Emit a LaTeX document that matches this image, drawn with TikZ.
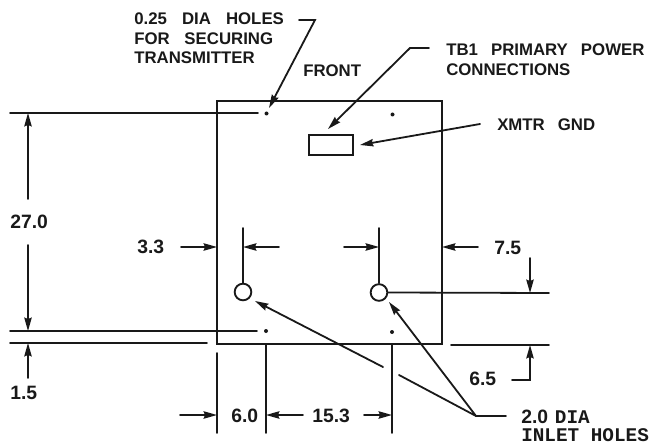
\documentclass[tikz,border=0pt]{standalone}
\usepackage{fontspec}
\setmainfont{Liberation Sans}
\newfontfamily\slabfont{Liberation Mono}
\usetikzlibrary{arrows.meta}
\tikzset{
  ln/.style={line width=1.35pt,color=black!90,line cap=round},
  arr/.style={ln,-{Stealth[length=10pt,width=5.5pt,inset=1pt]}},
  lbl/.style={anchor=west,inner sep=0pt,font=\fontsize{12.6}{14}\selectfont\bfseries,text=black!90},
  dim/.style={lbl,font=\fontsize{14.5}{16}\selectfont\bfseries},
  slab/.style={lbl,font=\fontsize{14.5}{16}\selectfont\bfseries},
  hole/.style={circle,draw=black!90,line width=1.4pt,minimum size=12.5pt,inner sep=0pt,fill=white},
  dot/.style={circle,fill=black!90,minimum size=3pt,inner sep=0pt}
}
\begin{document}
\begin{tikzpicture}[x=0.75pt,y=-0.75pt]
\useasboundingbox (0,0) rectangle (652,445);
% chassis
\draw[ln] (217,101) rectangle (442,344);
\node[draw=black!90,line width=1.35pt,minimum width=33pt,minimum height=15pt,inner sep=0pt,anchor=north west] (tb) at (308,134) {};
% holes
\node[dot] (d1) at (266.5,113.5) {};
\node[dot] (d2) at (392.5,114.5) {};
\node[dot] (d3) at (266,331) {};
\node[dot] (d4) at (392,332) {};
\node[hole] (h1) at (243,292) {};
\node[hole] (h2) at (379,292.5) {};
% extension lines, left
\coordinate (e1a) at (10,113); \coordinate (e1b) at (258,113);
\coordinate (e2a) at (10,331); \coordinate (e2b) at (257,331);
\coordinate (e3a) at (10,343); \coordinate (e3b) at (207,343);
\draw[ln] (e1a)--(e1b); \draw[ln] (e2a)--(e2b); \draw[ln] (e3a)--(e3b);
% 27.0 and 1.5
\coordinate (a1) at (28,199); \coordinate (a1t) at (28,113);
\coordinate (a2) at (28,245); \coordinate (a2t) at (28,331);
\coordinate (a3) at (28,378); \coordinate (a3t) at (28,343);
\draw[arr] (a1)--(a1t); \draw[arr] (a2)--(a2t); \draw[arr] (a3)--(a3t);
\node[dim] (t27) at (10,222) {27.0};
\node[dim] (t15) at (10,393) {1.5};
% 3.3 / 7.5 row
\coordinate (v1) at (243,228); \coordinate (v2) at (379,228);
\draw[ln] (v1)--(h1.north); \draw[ln] (v2)--(h2.north);
\draw[arr] (181,247)--(217,247);
\draw[arr] (279,247)--(243,247);
\draw[arr] (344,247)--(379,247);
\draw[arr] (478,247)--(442,247);
\node[dim] (t33) at (137,247) {3.3};
\node[dim] (t75) at (494,248) {7.5};
% right dims
\coordinate (r1) at (549,293);
\draw[ln] (h2.east)--(r1);
\coordinate (r2a) at (451,345); \coordinate (r2b) at (549,345);
\draw[ln] (r2a)--(r2b);
\draw[arr] (530,258)--(530,293);
\draw[arr] (512,380)--(530,380)--(530,345);
\node[dim] (t65) at (469,379) {6.5};
% bottom dims
\draw[ln] (217,353)--(217,433);
\draw[ln] (266,344)--(266,433);
\draw[ln] (392,344)--(392,433);
\draw[arr] (180,415)--(217,415);
\draw[arr] (303,415)--(266,415);
\draw[arr] (364,415)--(392,415);
\node[dim] (t60) at (231,416) {6.0};
\node[dim] (t153) at (312,416) {15.3};
% leaders
\coordinate (k) at (476,416);
\draw[ln] (506,416)--(k);
\draw[arr] (k)--(389,302);
\draw[ln] (k)--(399,375);
\draw[arr] (383,367)--(255,301);
\draw[arr] (299,20)--(315,20)--(269,108);
\draw[arr] (429,48)--(410,48)--(328,129);
\draw[arr] (480,124)--(360,145);
% text
\node[lbl] (n1) at (134,19) {0.25\hspace{.62em} DIA\hspace{.62em} HOLES};
\node[lbl] (n2) at (134,38.5) {FOR\hspace{.6em} SECURING};
\node[lbl] (n3) at (134,58) {TRANSMITTER};
\node[lbl] (n4) at (303,71) {FRONT};
\node[lbl] (n5) at (446,50) {TB1\hspace{.5em} PRIMARY\hspace{.5em} POWER};
\node[lbl] (n6) at (446,70) {CONNECTIONS};
\node[lbl] (n7) at (497,125) {XMTR\hspace{.5em} GND};
\node[slab] (n8) at (521,417) {2.0\hspace{.35em}{\slabfont DIA}};
\node[slab] (n9) at (521,435) {{\slabfont INLET HOLES}};
\end{tikzpicture}
\end{document}
